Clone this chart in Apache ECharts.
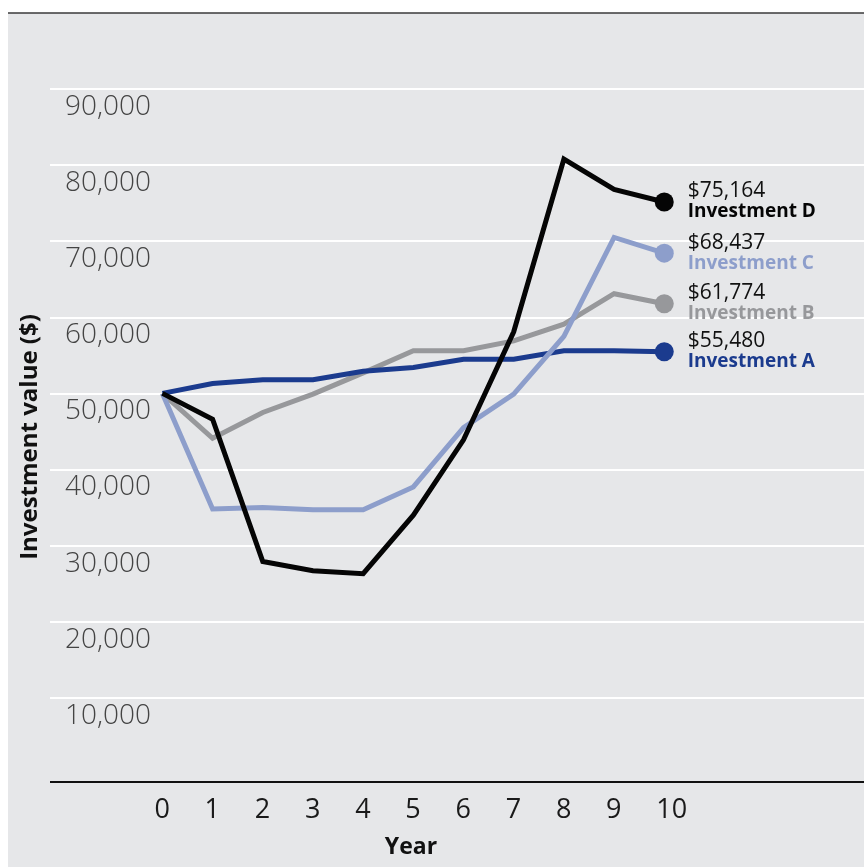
<!DOCTYPE html>
<html>
<head>
<meta charset="utf-8">
<script src="https://cdn.jsdelivr.net/npm/echarts@6/dist/echarts.min.js"></script>
<style>
  html, body { margin: 0; padding: 0; background: #ffffff; }
  #chart { width: 864px; height: 867px; }
</style>
</head>
<body>
<div id="chart"></div>
<script>
// ---- data ----
const years = [0, 1, 2, 3, 4, 5, 6, 7, 8, 9, 10];
const investmentA = [50000, 51300, 51800, 51800, 52900, 53400, 54500, 54500, 55600, 55600, 55480];
const investmentB = [50000, 44100, 47500, 49900, 52700, 55600, 55600, 56900, 59100, 63100, 61774];
const investmentC = [50000, 34800, 35000, 34700, 34700, 37700, 45500, 49900, 57500, 70500, 68437];
const investmentD = [50000, 46600, 27900, 26700, 26300, 34000, 43900, 58100, 80800, 76800, 75164];
const seriesNames = ['Investment B', 'Investment A', 'Investment C', 'Investment D'];
const yAxisTitle = 'Investment value ($)';
const xAxisTitle = 'Year';

const colors = {
  'Investment A': '#1b3b8e',
  'Investment B': '#97989b',
  'Investment C': '#8d9ecb',
  'Investment D': '#050505'
};
const valuesByName = {
  'Investment A': investmentA,
  'Investment B': investmentB,
  'Investment C': investmentC,
  'Investment D': investmentD
};

const FONT = '"Open Sans", "DejaVu Sans", sans-serif';
const fmt = v => v.toLocaleString('en-US');

function buildSeries(name) {
  const vals = valuesByName[name];
  const color = colors[name];
  const last = vals.length - 1;
  const data = vals.map((v, i) => {
    if (i !== last) return [years[i], v];
    return {
      value: [years[i], v],
      symbol: 'circle',
      symbolSize: 19,
      itemStyle: { color: color },
      label: {
        show: true,
        position: 'right',
        distance: 14,
        formatter: '{v|$' + fmt(v) + '}\n{n|' + name + '}',
        rich: {
          v: { fontFamily: FONT, fontSize: 21, color: '#111111', lineHeight: 20, align: 'left', padding: [0, 0, 1, 0] },
          n: { fontFamily: FONT, fontSize: 19, fontWeight: 'bold', color: color, lineHeight: 20, align: 'left' }
        }
      }
    };
  });
  return {
    name: name,
    type: 'line',
    data: data,
    symbol: 'none',
    showSymbol: true,
    lineStyle: { color: color, width: 5, join: 'miter', cap: 'butt' },
    itemStyle: { color: color },
    emphasis: { disabled: true },
    animation: false,
    z: 3
  };
}

const chart = echarts.init(document.getElementById('chart'), null, { renderer: 'canvas' });

const option = {
  backgroundColor: '#ffffff',
  animation: false,
  grid: { left: 50, right: 0, top: 13, bottom: 93.2, containLabel: false },
  xAxis: {
    type: 'value',
    min: -2.24,
    max: 13.98,
    axisLine: { show: false },
    axisTick: { show: false },
    splitLine: { show: false },
    axisLabel: {
      customValues: years.map(y => y - 8 / 50.2),
      formatter: v => String(Math.round(v)),
      align: 'left',
      margin: 23,
      fontFamily: FONT,
      fontSize: 27,
      color: '#1a1a1a'
    }
  },
  yAxis: {
    type: 'value',
    min: 0,
    max: 100000,
    interval: 10000,
    axisLine: { show: false },
    axisTick: { show: false },
    splitLine: { show: true, showMinLine: false, showMaxLine: false, lineStyle: { color: '#ffffff', width: 2 } },
    axisLabel: {
      inside: true,
      margin: 15,
      align: 'left',
      verticalAlign: 'top',
      lineHeight: 28,
      padding: [4, 0, 0, 0],
      showMinLabel: false,
      showMaxLabel: false,
      formatter: v => fmt(v),
      fontFamily: FONT,
      fontSize: 28,
      fontWeight: 300,
      color: '#444444'
    }
  },
  graphic: [
    {
      type: 'rect',
      z: -100,
      silent: true,
      shape: { x: 8, y: 13, width: 856, height: 854 },
      style: { fill: '#e6e7e9' }
    },
    {
      type: 'line',
      z: 100,
      silent: true,
      shape: { x1: 8, y1: 13, x2: 864, y2: 13 },
      style: { stroke: '#3a3a3a', lineWidth: 1.5 }
    },
    {
      type: 'line',
      z: 100,
      silent: true,
      shape: { x1: 50, y1: 782, x2: 864, y2: 782 },
      style: { stroke: '#111111', lineWidth: 2 }
    },
    {
      type: 'text',
      z: 100,
      silent: true,
      x: 30,
      y: 437,
      rotation: Math.PI / 2,
      style: {
        text: yAxisTitle,
        fontFamily: FONT,
        fontSize: 24,
        fontWeight: 'bold',
        fill: '#111111',
        align: 'center',
        verticalAlign: 'middle'
      }
    },
    {
      type: 'text',
      z: 100,
      silent: true,
      x: 411,
      y: 847,
      style: {
        text: xAxisTitle,
        fontFamily: FONT,
        fontSize: 23,
        fontWeight: 'bold',
        fill: '#111111',
        align: 'center',
        verticalAlign: 'middle'
      }
    }
  ],
  series: seriesNames.map(buildSeries)
};

chart.setOption(option);
</script>
</body>
</html>
